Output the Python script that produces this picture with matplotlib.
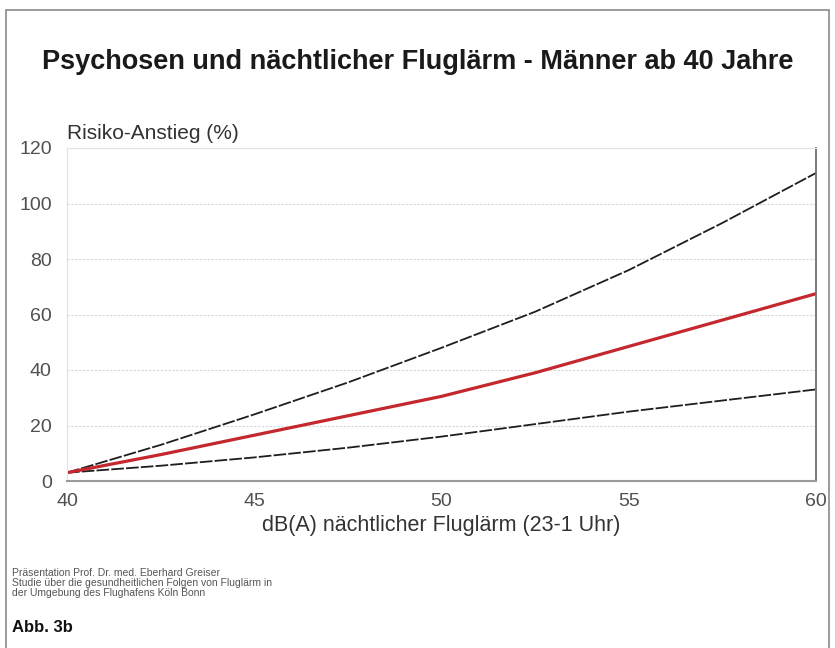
import matplotlib
matplotlib.use("Agg")
import matplotlib.pyplot as plt
from matplotlib.patches import Rectangle

plt.rcParams['font.family'] = ['Liberation Sans', 'DejaVu Sans']

# Data
db_levels = [40, 42.5, 45, 47.5, 50, 52.5, 55, 57.5, 60]
upper_ci = [3, 13, 24, 35.5, 48, 61, 76, 93, 111]
risk_increase = [3, 9.5, 16.5, 23.5, 30.5, 39, 48.5, 58, 67.5]
lower_ci = [3, 5.5, 8.5, 12, 16, 20.5, 25, 29, 33]
x_ticks = [40, 45, 50, 55, 60]
y_ticks = [0, 20, 40, 60, 80, 100, 120]

W, H = 835, 648
fig = plt.figure(figsize=(W / 100, H / 100), dpi=100)
fig.patch.set_facecolor('white')

# outer frame
fig.add_artist(Rectangle((6 / W, -0.01), (829 - 6) / W, 1 - 10 / H + 0.01,
                         transform=fig.transFigure, fill=False,
                         edgecolor='#8a8a8a', lw=1.2))

ax = fig.add_axes([67 / W, 1 - 481 / H, (816 - 67) / W, (481 - 148) / H])
ax.plot(db_levels, upper_ci, color='#1e1e1e', lw=1.3, ls=(0, (7, 1.2)))
ax.plot(db_levels, lower_ci, color='#1e1e1e', lw=1.3, ls=(0, (7, 1.2)))
ax.plot(db_levels, risk_increase, color='#c4282e', lw=2.3)

ax.set_xlim(40, 60)
ax.set_ylim(0, 120)
ax.set_xticks(x_ticks)
ax.set_yticks(y_ticks)
ax.tick_params(axis='both', length=0, labelsize=14, colors='#505050')
ax.tick_params(axis='y', pad=11)
ax.tick_params(axis='x', pad=9)
for g in [20, 40, 60, 80, 100]:
    ax.axhline(g, color='#d6d6d6', lw=0.8, ls=(0, (2, 1.5)), zorder=0)

ax.spines['top'].set_color('#e2e2e2')
ax.spines['left'].set_color('#e2e2e2')
ax.spines['right'].set_color('#707070')
ax.spines['bottom'].set_color('#9a9a9a')
ax.spines['bottom'].set_linewidth(1.5)
ax.spines['right'].set_linewidth(1.3)

ax.set_xlabel('dB(A) nächtlicher Fluglärm (23-1 Uhr)', fontsize=15.5,
              color='#333333', labelpad=3)
ax.text(0.0, 1.015, 'Risiko-Anstieg (%)', transform=ax.transAxes,
        fontsize=15, color='#333333', ha='left', va='bottom')

fig.text(418 / W, 1 - 62 / H, 'Psychosen und nächtlicher Fluglärm - Männer ab 40 Jahre',
         ha='center', va='center', fontsize=19.5, fontweight='bold', color='#1a1a1a')

fig.text(12 / W, 1 - 583 / H,
         'Präsentation Prof. Dr. med. Eberhard Greiser\n'
         'Studie über die gesundheitlichen Folgen von Fluglärm in\n'
         'der Umgebung des Flughafens Köln Bonn',
         ha='left', va='center', fontsize=7.5, color='#555555', linespacing=0.95)

fig.text(12 / W, 1 - 628 / H, 'Abb. 3b', ha='left', va='center',
         fontsize=12, fontweight='bold', color='#111111')

fig.savefig('out.png', dpi=100, facecolor='white')
